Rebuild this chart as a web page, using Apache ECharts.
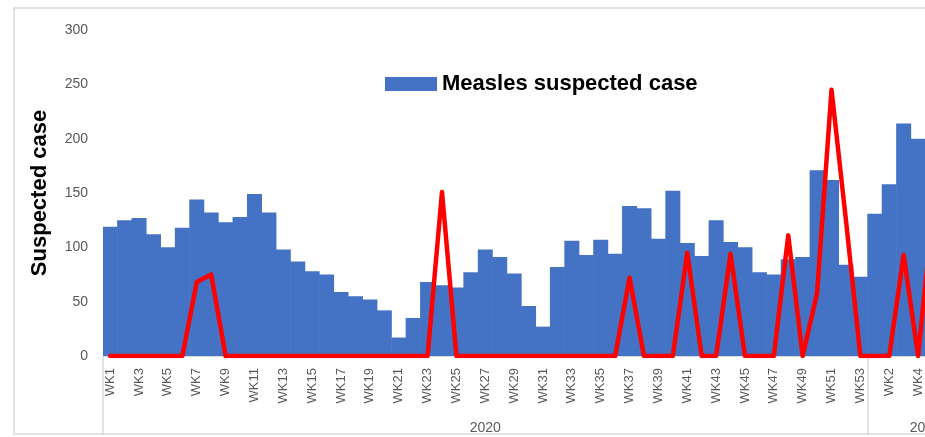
<!DOCTYPE html>
<html>
<head>
<meta charset="utf-8">
<title>Measles suspected case</title>
<script src="https://cdn.jsdelivr.net/npm/echarts@6/dist/echarts.min.js"></script>
<style>
  html, body { margin: 0; padding: 0; background: #fff; }
  #chart { width: 925px; height: 437px; }
</style>
</head>
<body>
<div id="chart"></div>
<script>
// week labels per year (2021 runs past the right edge of the picture)
const weeks2020 = ['WK1', 'WK2', 'WK3', 'WK4', 'WK5', 'WK6', 'WK7', 'WK8', 'WK9', 'WK10',
  'WK11', 'WK12', 'WK13', 'WK14', 'WK15', 'WK16', 'WK17', 'WK18', 'WK19', 'WK20',
  'WK21', 'WK22', 'WK23', 'WK24', 'WK25', 'WK26', 'WK27', 'WK28', 'WK29', 'WK30',
  'WK31', 'WK32', 'WK33', 'WK34', 'WK35', 'WK36', 'WK37', 'WK38', 'WK39', 'WK40',
  'WK41', 'WK42', 'WK43', 'WK44', 'WK45', 'WK46', 'WK47', 'WK48', 'WK49', 'WK50',
  'WK51', 'WK52', 'WK53']
const weeks2021 = ['WK1', 'WK2', 'WK3', 'WK4', 'WK5', 'WK6', 'WK7', 'WK8']
const years = ['2020', '2021']

// bars: measles suspected case
const suspected2020 = [119, 125, 127, 112, 100, 118, 144, 132, 123, 128,
  149, 132, 98, 87, 78, 75, 59, 55, 52, 42,
  17, 35, 68, 65, 63, 77, 98, 91, 76, 46,
  27, 82, 106, 93, 107, 94, 138, 136, 108, 152,
  104, 92, 125, 105, 100, 77, 75, 89, 91, 171,
  162, 84, 73]
const suspected2021 = [131, 158, 214, 200, null, null, null, null]

// red line
const line2020 = [0, 0, 0, 0, 0, 0, 68, 75, 0, 0,
  0, 0, 0, 0, 0, 0, 0, 0, 0, 0,
  0, 0, 0, 151, 0, 0, 0, 0, 0, 0,
  0, 0, 0, 0, 0, 0, 72, 0, 0, 0,
  95, 0, 0, 94, 0, 0, 0, 111, 0, 58,
  245, 125, 0]
const line2021 = [0, 0, 93, 0, 130, null, null, null]

const yTicks = [0, 50, 100, 150, 200, 250, 300]

const categories = weeks2020.concat(weeks2021)
const barData = suspected2020.concat(suspected2021)
const lineData = line2020.concat(line2021)
const groupSizes = [weeks2020.length, weeks2021.length]
const total = categories.length

// group boundaries and centres for the year row
const bounds = [0]
const centres = []
groupSizes.forEach((n, i) => {
  centres.push(bounds[i] + n / 2)
  bounds.push(bounds[i] + n)
})

const labelColor = '#595959'
const barColor = '#4472c4'
const font = 'Liberation Sans, Arial, sans-serif'

const chart = echarts.init(document.getElementById('chart'))
chart.setOption({
  animation: false,
  textStyle: { fontFamily: font },
  graphic: [
    {
      type: 'rect',
      shape: { x: 14, y: 8, width: 1000, height: 426 },
      style: { fill: 'none', stroke: '#d9d9d9', lineWidth: 1.5 },
      silent: true,
    },
  ],
  legend: {
    data: ['Measles suspected case'],
    left: 380,
    top: 68,
    icon: 'rect',
    itemWidth: 52,
    itemHeight: 14,
    textStyle: { fontSize: 22, fontWeight: 'bold', color: '#000', fontFamily: font },
  },
  // the plot runs on past the right edge, as in the cropped original
  grid: {
    left: 103,
    width: 880,
    top: 30,
    bottom: 81,
    outerBoundsMode: 'none',
  },
  xAxis: [
    {
      type: 'category',
      data: categories,
      position: 'bottom',
      axisLine: { lineStyle: { color: '#d9d9d9', width: 1 } },
      axisTick: { show: false },
      axisLabel: {
        interval: 1,
        rotate: 90,
        margin: 12,
        fontSize: 13,
        color: labelColor,
      },
    },
    {
      type: 'value',
      min: 0,
      max: total,
      position: 'bottom',
      axisLine: { show: false },
      splitLine: { show: false },
      axisTick: {
        show: true,
        length: 79,
        customValues: bounds,
        lineStyle: { color: '#d9d9d9', width: 1.5 },
      },
      axisLabel: {
        customValues: centres,
        margin: 65,
        fontSize: 14,
        color: labelColor,
        formatter: v => years[centres.indexOf(v)],
      },
    },
  ],
  yAxis: {
    type: 'value',
    min: 0,
    max: 300,
    interval: 50,
    name: 'Suspected case',
    nameLocation: 'middle',
    nameRotate: 90,
    nameGap: 52,
    nameTextStyle: { fontSize: 22, fontWeight: 'bold', color: '#000' },
    axisLine: { show: false },
    axisTick: { show: false },
    splitLine: { show: false },
    axisLabel: {
      margin: 15,
      fontSize: 14,
      color: labelColor,
      formatter: v => (yTicks.includes(v) ? String(v) : ''),
    },
  },
  series: [
    {
      name: 'Measles suspected case',
      type: 'bar',
      data: barData,
      // a touch wider than the band so neighbours overlap and no seams show
      barWidth: 15,
      itemStyle: { color: barColor },
    },
    {
      name: 'Cases',
      type: 'line',
      data: lineData,
      symbol: 'none',
      lineStyle: { color: '#ff0000', width: 4.5, cap: 'round', join: 'round' },
    },
  ],
})
</script>
</body>
</html>
